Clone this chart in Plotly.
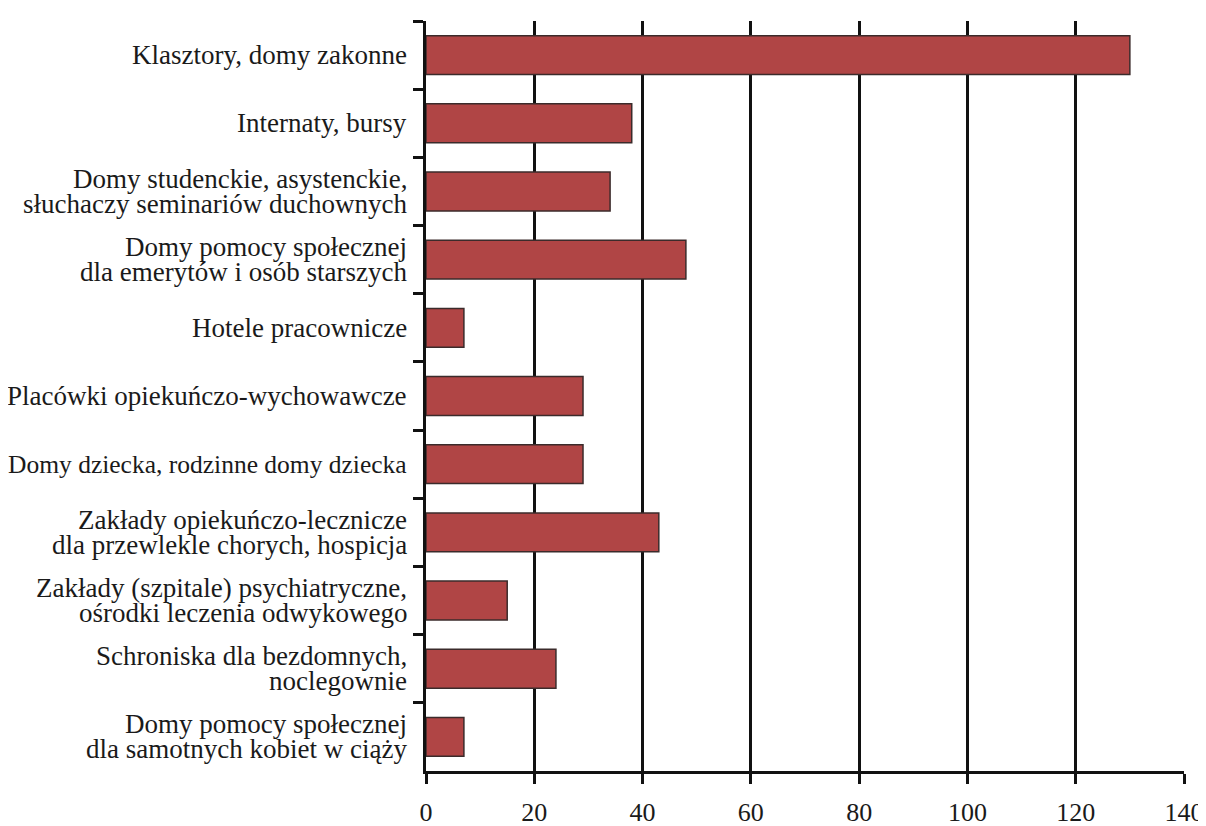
import plotly.graph_objects as go

categories = [
    "Klasztory, domy zakonne",
    "Internaty, bursy",
    "Domy studenckie, asystenckie,<br>słuchaczy seminariów duchownych",
    "Domy pomocy społecznej<br>dla emerytów i osób starszych",
    "Hotele pracownicze",
    "Placówki opiekuńczo-wychowawcze",
    "Domy dziecka, rodzinne domy dziecka",
    "Zakłady opiekuńczo-lecznicze<br>dla przewlekle chorych, hospicja",
    "Zakłady (szpitale) psychiatryczne,<br>ośrodki leczenia odwykowego",
    "Schroniska dla bezdomnych,<br>noclegownie",
    "Domy pomocy społecznej<br>dla samotnych kobiet w ciąży",
]
values = [130, 38, 34, 48, 7, 29, 29, 43, 15, 24, 7]
x_ticks = [0, 20, 40, 60, 80, 100, 120, 140]

SERIF = "Liberation Serif, Times New Roman, serif"
INK = "#1a1a1a"
LINE = "#111111"
LABEL_SIZE = 27
# the original sets this one label condensed; shrink it so it fits the page
LABEL_SIZE_OVERRIDE = {"Domy dziecka, rodzinne domy dziecka": 25.5}

fig = go.Figure(
    go.Bar(
        x=values,
        y=categories,
        orientation="h",
        width=0.57,
        marker=dict(color="#b04545", line=dict(color="#3b2b2b", width=1.5)),
    )
)

# category labels drawn as annotations so two-line labels keep the tight
# line spacing of the original (plotly tick labels use 1.3em)
LINE_GAP = 25
for cat in categories:
    lines = cat.split("<br>")
    n = len(lines)
    size = LABEL_SIZE_OVERRIDE.get(cat, LABEL_SIZE)
    for i, line in enumerate(lines):
        fig.add_annotation(
            text=line,
            xref="paper",
            x=0,
            xanchor="right",
            xshift=-17,
            yref="y",
            y=cat,
            yanchor="middle",
            yshift=((n - 1) / 2 - i) * LINE_GAP,
            showarrow=False,
            font=dict(family=SERIF, size=size, color=INK),
        )

# page body has an 8px margin, so shift everything back by that much
fig.update_layout(
    width=1198,
    height=818,
    margin=dict(l=418, r=22, t=13, b=55),
    paper_bgcolor="white",
    plot_bgcolor="white",
    showlegend=False,
    font=dict(family=SERIF, size=26, color=INK),
)
fig.update_xaxes(
    range=[0, 140],
    tickvals=x_ticks,
    automargin=False,
    ticklabeloverflow="allow",
    showgrid=True,
    gridcolor=LINE,
    gridwidth=2.5,
    zeroline=False,
    showline=True,
    linecolor=LINE,
    linewidth=3,
    ticks="outside",
    ticklen=10,
    tickwidth=3,
    tickcolor=LINE,
    ticklabelstandoff=6,
    tickfont=dict(family=SERIF, size=26, color=INK),
)
fig.update_yaxes(
    categoryorder="array",
    categoryarray=categories,
    range=[10.5, -0.5],
    automargin=False,
    tickson="boundaries",
    ticks="outside",
    ticklen=10,
    tickwidth=3,
    tickcolor=LINE,
    showticklabels=False,
    showline=True,
    linecolor=LINE,
    linewidth=3,
    showgrid=False,
)

fig.write_html("out.html")
